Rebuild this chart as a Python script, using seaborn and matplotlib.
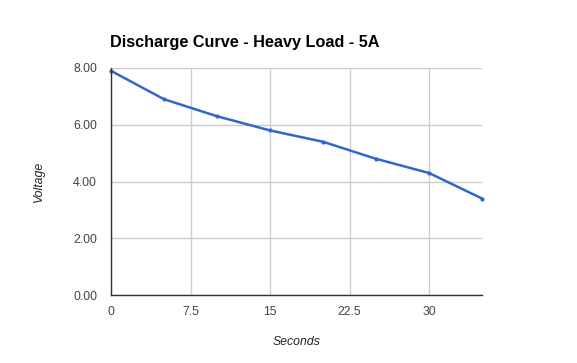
import matplotlib
matplotlib.use("Agg")
import matplotlib.pyplot as plt
import seaborn as sns
import pandas as pd
from matplotlib.ticker import FixedLocator, FormatStrFormatter

seconds = [0, 5, 10, 15, 20, 25, 30, 35]
voltage = [7.9, 6.9, 6.3, 5.8, 5.4, 4.8, 4.3, 3.4]
x_ticks = [0, 7.5, 15, 22.5, 30]
x_tick_labels = ["0", "7.5", "15", "22.5", "30"]
y_ticks = [0, 2, 4, 6, 8]
title = "Discharge Curve - Heavy Load - 5A"

sns.set_theme(style="white")
plt.rcParams['font.family'] = ['Liberation Sans', 'DejaVu Sans']

df = pd.DataFrame({"Seconds": seconds, "Voltage": voltage})

fig = plt.figure(figsize=(5.77, 3.63), dpi=100)
ax = fig.add_axes([111/577, 1 - 295/363, (482 - 111)/577, (295 - 68)/363])

sns.lineplot(data=df, x="Seconds", y="Voltage", ax=ax, color="#3366cc",
             linewidth=1.8, marker="o", markersize=3, markeredgewidth=0,
             clip_on=False)

ax.set_xlim(0, 35)
ax.set_ylim(0, 8)
ax.xaxis.set_major_locator(FixedLocator(x_ticks))
ax.set_xticklabels(x_tick_labels)
ax.yaxis.set_major_locator(FixedLocator(y_ticks))
ax.yaxis.set_major_formatter(FormatStrFormatter("%.2f"))
ax.grid(True, color="#cccccc", linewidth=1)
ax.set_axisbelow(True)
for s in ["top", "right"]:
    ax.spines[s].set_visible(False)
ax.spines["left"].set_color("#333333")
ax.spines["bottom"].set_color("#333333")
ax.spines["left"].set_linewidth(1)
ax.spines["bottom"].set_linewidth(1)
ax.tick_params(axis="both", length=0, labelsize=8.8, colors="#444444")
ax.tick_params(axis="x", pad=8)
ax.tick_params(axis="y", pad=10)

ax.set_xlabel("Seconds", fontstyle="italic", fontsize=8.8, color="#222222", labelpad=13)
ax.set_ylabel("Voltage", fontstyle="italic", fontsize=8.8, color="#222222", labelpad=20)

fig.text(110/577, 1 - 42/363, title, fontsize=11.7, fontweight="bold", color="#000000",
         ha="left", va="center")

fig.savefig("out.png", dpi=100, facecolor="white")
